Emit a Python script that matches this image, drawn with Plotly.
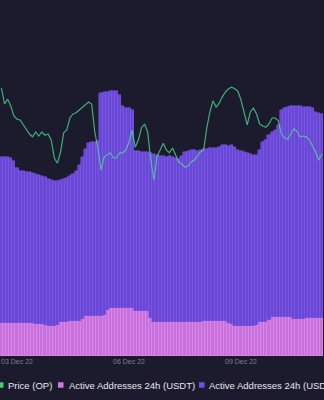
import pandas as pd
import plotly.graph_objects as go

# 2-hourly timestamps, 02 Dec 2022 14:00 -> 11 Dec 2022 04:00
times = pd.date_range("2022-12-02 14:00", periods=104, freq="2h")

usdt = [1650, 1660, 1640, 1650, 1670, 1650, 1640, 1630, 1650, 1660, 1640,
        1600, 1590, 1580, 1570, 1500, 1490, 1510, 1550, 1700, 1690, 1710,
        1750, 1740, 1760, 1770, 1850, 2000, 2010, 2020, 2000, 1990, 2010,
        2050, 2300, 2400, 2410, 2420, 2400, 2410, 2390, 2400, 2380,
        2250, 2260, 2240, 2250, 2230, 1900,
        1700, 1690, 1700, 1710, 1700, 1690, 1700, 1710, 1700, 1690, 1700, 1710,
        1720, 1700, 1710, 1720,
        1750, 1740, 1750, 1760, 1750, 1740, 1750, 1730, 1650, 1600,
        1500, 1490, 1500, 1510, 1500, 1490, 1500, 1550, 1700, 1710, 1700, 1800,
        1950, 1960, 1950, 1940, 1950, 1960, 1950, 1850, 1840, 1850, 1860,
        1900, 1890, 1900, 1910, 1900, 1890]

usdc = [8300, 8290, 8310, 8250, 8080, 7750, 7610, 7620, 7550, 7540, 7510,
        7500, 7460, 7420, 7380, 7350, 7310, 7240, 7200, 7100, 7160, 7190,
        7250, 7360, 7490, 7780, 8100, 8350, 8640, 8680, 8700, 8760, 11140,
        11150, 10900, 10850, 10840, 10830, 10650, 10090, 10010, 10000, 9920,
        8000, 7990, 7960, 7950, 7970, 8250,
        8400, 8360, 8300, 8290, 8250, 8310, 8250, 8190, 8150, 8310, 8500, 8540,
        8580, 8600, 8540, 8580,
        8600, 8610, 8650, 8640, 8650, 8710, 8800, 8820, 8850, 8950,
        8950, 8810, 8750, 8690, 8650, 8610, 8550, 8500, 8600, 8990, 9100, 9250,
        9250, 9340, 9600, 10360, 10450, 10490, 10550, 10650, 10660, 10650, 10590,
        10550, 10560, 10500, 10290, 10250, 10210]

price = [1.080, 1.040, 1.052, 1.035, 1.010, 1.002, 1.000, 0.988, 0.978, 0.965,
         0.958, 0.970, 0.960, 0.970, 0.962, 0.965, 0.950, 0.905, 0.892, 0.920,
         0.968, 0.975, 1.005, 1.015, 1.018, 1.025, 1.032, 1.038, 1.045, 1.040,
         0.970, 0.930, 0.875, 0.908, 0.912, 0.918, 0.905, 0.905, 0.918, 0.918,
         0.925, 0.945, 0.975, 0.932, 0.950, 0.980, 0.990, 0.970, 0.900, 0.850,
         0.908, 0.925, 0.942, 0.925, 0.918, 0.930, 0.912, 0.895, 0.890, 0.882,
         0.885, 0.895, 0.900, 0.910, 0.920, 0.925, 0.980, 1.020, 1.048, 1.032,
         1.042, 1.058, 1.070, 1.078, 1.082, 1.078, 1.072, 1.050, 1.020, 0.988,
         1.020, 1.030, 1.015, 0.990, 0.985, 0.982, 0.990, 1.005, 1.005, 0.998,
         0.965, 0.955, 0.952, 0.965, 0.978, 0.972, 0.958, 0.960, 0.958, 0.950,
         0.935, 0.920, 0.900, 0.915]

tick_vals = ["2022-12-03", "2022-12-06", "2022-12-09"]
tick_text = ["03 Dec 22", "06 Dec 22", "09 Dec 22"]

BG = "#1c1b2e"
PINK = "#c870dc"
PURPLE = "#6a47d6"
GREEN = "#4de08c"

fig = go.Figure()
fig.add_trace(go.Bar(x=times, y=usdt, name="Active Addresses 24h (USDT)",
                     marker=dict(color=PINK, line=dict(color="#dc8fe8", width=0.5)),
                     yaxis="y"))
fig.add_trace(go.Bar(x=times, y=usdc, name="Active Addresses 24h (USDC)",
                     marker=dict(color=PURPLE, line=dict(color="#7c5ce2", width=0.5)),
                     yaxis="y"))
fig.add_trace(go.Scatter(x=times, y=price, name="Price (OP)", mode="lines",
                         line=dict(color=GREEN, width=1.2), opacity=0.75,
                         yaxis="y2"))

fig.update_layout(
    width=324, height=400,
    margin=dict(l=0, r=0, t=0, b=44),
    paper_bgcolor=BG, plot_bgcolor=BG,
    barmode="stack", bargap=0.0,
    showlegend=False,
    xaxis=dict(range=["2022-12-02 13:04", "2022-12-11 05:22"],
               tickvals=tick_vals, ticktext=tick_text,
               tickfont=dict(family="Liberation Sans, Arial", size=7, color="#7d7d8c"),
               ticklabeloverflow="allow",
               showgrid=False, zeroline=False, showline=False, ticks="", ticklen=0),
    yaxis=dict(range=[0, 17800], visible=False, showgrid=False, zeroline=False),
    yaxis2=dict(range=[0.41, 1.30], overlaying="y", visible=False,
                showgrid=False, zeroline=False),
)

# legend (drawn manually to match the compact styling)
legend_items = [("Price (OP)", "#3fcf6f", -2, 6),
                ("Active Addresses 24h (USDT)", "#cf78e0", 58, 67),
                ("Active Addresses 24h (USDC)", "#6b52e0", 199, 207)]
W = 324.0
PLOT_H = 356.0
ly = -(385 - PLOT_H) / PLOT_H
sq = 5.5 / PLOT_H
for label, col, sx, tx in legend_items:
    fig.add_shape(type="rect", xref="paper", yref="paper",
                  x0=sx / W, x1=(sx + 5.5) / W, y0=ly - sq / 2, y1=ly + sq / 2,
                  fillcolor=col, line=dict(width=0))
    fig.add_annotation(text=label, xref="paper", yref="paper",
                       x=tx / W, y=ly, xanchor="left", yanchor="middle",
                       showarrow=False,
                       font=dict(family="Liberation Sans, Arial", size=9.5, color="#e6e6ee"))

fig.write_html("out.html")
